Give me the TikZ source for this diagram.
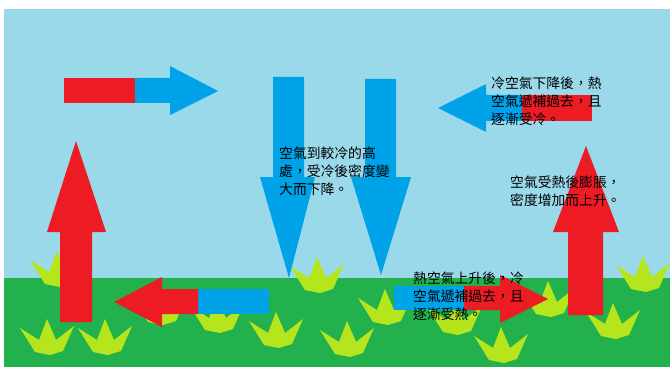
\documentclass[tikz,border=0pt]{standalone}
\usepackage{fontspec}
\newfontfamily\cjkfont{Noto Sans CJK TC}
\usetikzlibrary{positioning}

\definecolor{sky}{HTML}{99D9EA}
\definecolor{ground}{HTML}{22B14C}
\definecolor{grass}{HTML}{B5E61D}
\definecolor{hot}{HTML}{ED1C24}
\definecolor{cold}{HTML}{00A2E8}

\tikzset{
	tuft/.pic={\fill[grass] (-27,-27) -- (-8,-15) -- (0,-36) -- (9,-15) -- (27,-29) -- (16,-4) -- (3,0) -- (-12,-3) -- cycle;},
	note/.style={font=\cjkfont\fontsize{13.8}{18}\selectfont,align=left,inner sep=0pt,anchor=north west}
}

\begin{document}
\begin{tikzpicture}[x=1pt,y=-1pt]
	\useasboundingbox (0,0) rectangle (670,369);
	\fill[sky] (4,9) rectangle (670,278);
	\fill[ground] (4,278) rectangle (670,367);

	\foreach \x/\y in {57/287,47/355,105/355,160/325,217/333,276/348,317/293,347/357,
		385/325,455/335,501/363,548/317,613/339,643/292}
		\pic at (\x,\y) {tuft};

	% warm air rising
	\fill[hot] (60,322) -- (60,232) -- (47,232) -- (76,141) -- (106,232) -- (92,232) -- (92,322) -- cycle;
	\fill[hot] (568,315) -- (568,232) -- (553,232) -- (586,146) -- (619,232) -- (603,232) -- (603,315) -- cycle;

	% cold air sinking
	\fill[cold] (273,77) -- (304,77) -- (304,177) -- (315,177) -- (289,278) -- (260,177) -- (273,177) -- cycle;
	\fill[cold] (365,79) -- (396,79) -- (396,177) -- (411,177) -- (381,275) -- (351,177) -- (365,177) -- cycle;

	% sideways flow
	\fill[hot] (64,78) rectangle (135,103);
	\fill[cold] (135,78) -- (170,78) -- (170,66) -- (218,91) -- (170,115) -- (170,103) -- (135,103) -- cycle;
	\fill[hot] (522,95) rectangle (592,121);
	\fill[cold] (522,95) -- (486,95) -- (486,84) -- (438,108) -- (486,132) -- (486,121) -- (522,121) -- cycle;
	\fill[cold] (198,289) rectangle (269,314);
	\fill[hot] (198,289) -- (162,289) -- (162,277) -- (114,302) -- (162,327) -- (162,314) -- (198,314) -- cycle;
	\fill[cold] (394,286) rectangle (464,310);
	\fill[hot] (464,286) -- (500,286) -- (500,275) -- (548,299) -- (500,323) -- (500,310) -- (464,310) -- cycle;

	\node[note] (sinknote) at (279,147) {空氣到較冷的高\\處，受冷後密度變\\大而下降。};
	\node[note] (coolnote) at (491,77) {冷空氣下降後，熱\\空氣遞補過去，且\\逐漸受冷。};
	\node[note] (risenote) at (510,176) {空氣受熱後膨脹，\\密度增加而上升。};
	\node[note] (warmnote) at (413,272) {熱空氣上升後，冷\\空氣遞補過去，且\\逐漸受熱。};
\end{tikzpicture}
\end{document}
